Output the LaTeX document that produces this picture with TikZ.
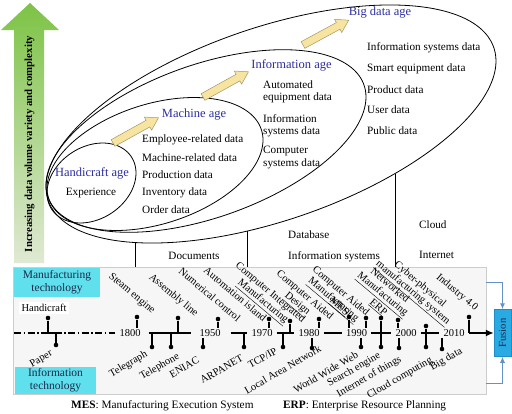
\documentclass[tikz,border=0pt]{standalone}
\usepackage{fontspec}
\setmainfont{Liberation Serif}
\usetikzlibrary{arrows.meta,calc}
\definecolor{ageblue}{RGB}{45,45,160}
\definecolor{cyanbox}{RGB}{96,224,236}
\definecolor{fusionblue}{RGB}{42,170,226}
\definecolor{fusionedge}{RGB}{30,140,200}
\definecolor{linkblue}{RGB}{100,145,200}
\definecolor{darktext}{RGB}{25,40,75}
\definecolor{arrowyellow}{RGB}{246,228,160}
\definecolor{arrowedge}{RGB}{165,150,105}
\definecolor{greentop}{RGB}{125,195,70}
\definecolor{greenbot}{RGB}{224,233,212}
\definecolor{panelfill}{RGB}{246,246,246}
\definecolor{paneledge}{RGB}{205,205,205}
\begin{document}
\begin{tikzpicture}[x=1pt,y=-1pt,
  txt/.style={font=\fontsize{11.2}{13}\selectfont, inner sep=0pt},
  agetitle/.style={font=\fontsize{12.5}{14}\selectfont, text=ageblue, inner sep=0pt},
  tl/.style={font=\fontsize{10.5}{12}\selectfont, inner sep=0pt, rotate=-40},
  bl/.style={font=\fontsize{10.5}{12}\selectfont, inner sep=0pt, rotate=30},
  yr/.style={font=\fontsize{10.5}{12}\selectfont, inner xsep=4pt, inner ysep=1.5pt},
  pin/.style={circle, fill=black, inner sep=0pt, minimum size=4.6pt},
  stem/.style={line width=1.1pt},
  axisline/.style={line width=1.5pt},
  dashdotline/.style={line width=1.2pt, dash pattern=on 7pt off 2.5pt on 1.5pt off 2.5pt},
  ell/.style={line width=0.8pt},
  sep/.style={line width=1pt},
  yarrowstyle/.style={draw=arrowedge, fill=arrowyellow, line width=0.5pt},
  techbox/.style={fill=cyanbox, text=darktext, align=center, font=\fontsize{11.5}{13}\selectfont, inner sep=0pt},
  link/.style={draw=linkblue, line width=1pt, -{Latex[length=6pt,width=5pt]}},
  yarr/.pic={\draw[yarrowstyle] (0,-3.8) -- (40,-3.8) -- (40,-7.5) -- (52,0) -- (40,7.5) -- (40,3.8) -- (0,3.8) -- cycle;},
]
\useasboundingbox (0,0) rectangle (512,413);

% green arrow
\shade[top color=greentop, bottom color=greenbot] (14,263) -- (14,30) -- (1,30) -- (30,3) -- (59,30) -- (44,30) -- (44,263) -- cycle;
\node[rotate=90, font=\bfseries\fontsize{10.8}{12}\selectfont, inner sep=0pt] (gtxt) at (29.5,144) {Increasing data volume variety and complexity};

% ellipses
\draw[ell] plot[smooth cycle, domain=0:357.5, samples=144, variable=\t] ({271+225*cos(\t)}, {124-63*cos(\t)+101*sin(\t)});
\draw[ell] plot[smooth cycle, domain=0:357.5, samples=144, variable=\t] ({206+160*cos(\t)}, {141-44*cos(\t)+80*sin(\t)});
\draw[ell] plot[smooth cycle, domain=0:357.5, samples=144, variable=\t] ({155+108*cos(\t)}, {164-24*cos(\t)+62*sin(\t)});
\draw[ell] plot[smooth cycle, domain=0:357.5, samples=144, variable=\t] ({91.5+44.5*cos(\t)}, {183-10*cos(\t)+38.7*sin(\t)});

% yellow arrows
\pic[rotate=29] (ya1) at (113,143) {yarr};
\pic[rotate=29] (ya2) at (203,97) {yarr};
\pic[rotate=28.5] (ya3) at (303,45) {yarr};

% titles
\node[agetitle] (thand) at (92,173) {Handicraft age};
\node[txt] (exper) at (91,193) {Experience};
\node[agetitle] (tmach) at (194,115) {Machine age};
\node[agetitle] (tinfo) at (291.5,65) {Information age};
\node[agetitle] (tbig) at (380,13) {Big data age};

% machine data
\node[txt, anchor=west] (m1) at (142,140) {Employee-related data};
\node[txt, anchor=west] (m2) at (142,157.5) {Machine-related data};
\node[txt, anchor=west] (m3) at (142,175) {Production data};
\node[txt, anchor=west] (m4) at (142,192.5) {Inventory data};
\node[txt, anchor=west] (m5) at (142,210) {Order data};

% information data
\node[txt, anchor=west] (i1a) at (263,85) {Automated};
\node[txt, anchor=west] (i1b) at (263,97.5) {equipment data};
\node[txt, anchor=west] (i2a) at (263,119) {Information};
\node[txt, anchor=west] (i2b) at (263,131.5) {systems data};
\node[txt, anchor=west] (i3a) at (263,151) {Computer};
\node[txt, anchor=west] (i3b) at (263,164) {systems data};

% big data
\node[txt, anchor=west] (b1) at (367,48) {Information systems data};
\node[txt, anchor=west] (b2) at (367,69) {Smart equipment data};
\node[txt, anchor=west] (b3) at (367,89.5) {Product data};
\node[txt, anchor=west] (b4) at (367,110) {User data};
\node[txt, anchor=west] (b5) at (367,130.5) {Public data};

% timeline panel
\node[draw=paneledge, fill=panelfill, minimum width=473pt, minimum height=127pt, inner sep=0pt, anchor=north west] (panel) at (13,267) {};

% separators
\coordinate (s1) at (135,242.6);
\coordinate (s2) at (247,231);
\coordinate (s3) at (395,173.6);
\draw[sep] (s1) -- (s1 |- panel.north);
\draw[sep] (s2) -- (s2 |- panel.north);
\draw[sep] (s3) -- (s3 |- panel.north);
\node[txt] (docs) at (194,256) {Documents};
\node[txt, anchor=west] (dbase) at (288,235) {Database};
\node[txt, anchor=west] (infsys) at (288,257) {Information systems};
\node[txt, anchor=west] (cloud) at (419,225) {Cloud};
\node[txt, anchor=west] (inet) at (419,255) {Internet};

% tech boxes
\node[techbox, minimum width=86pt, minimum height=29pt] (mtech) at (57,282.5) {Manufacturing\\technology};
\node[techbox, minimum width=81pt, minimum height=27pt] (itech) at (55.5,380.5) {Information\\technology};
\node[fill=white, font=\fontsize{10.5}{12}\selectfont, inner xsep=3pt, inner ysep=2pt] (handi) at (44,308) {Handicraft};

% years
\node[yr] (y1800) at (130,333) {1800};
\node[yr] (y1950) at (210,333) {1950};
\node[yr] (y1970) at (262,333) {1970};
\node[yr] (y1980) at (309,333) {1980};
\node[yr] (y1990) at (356.5,333) {1990};
\node[yr] (y2000) at (406,333) {2000};
\node[yr] (y2010) at (454,333) {2010};

% axis
\coordinate (ax0) at (14,333);
\draw[dashdotline] (ax0) -- (y1800.west);
\draw[axisline, shorten <=4pt, shorten >=4pt] (y1800.east) -- (y1950.west);
\draw[axisline, shorten <=6pt] (y1950.east) -- (y1970.west);
\draw[axisline] (y1970.east) -- (y1980.west);
\draw[axisline] (y1980.east) -- (y1990.west);
\draw[axisline] (y1990.east) -- (y2000.west);
\draw[axisline] (y2000.east) -- (y2010.west);

% fusion
\node[fill=fusionblue, draw=fusionedge, line width=0.5pt, minimum width=17pt, minimum height=47pt, inner sep=0pt] (fusion) at (502.5,333) {};
\node[rotate=90, font=\fontsize{10.5}{12}\selectfont, text=darktext, inner sep=0pt] (fustxt) at (fusion.center) {Fusion};
\coordinate (mfgout) at (486,282);
\coordinate (itout) at (486,383);
\draw[link] (mfgout) -| (fusion.north);
\draw[link] (itout) -| (fusion.south);

% handicraft / paper
\node[pin] (pHandi) at (48,318) {};
\node[pin] (pPaper) at (56,345) {};
\draw[stem] (pHandi) -- ++(0,15) -| (pPaper);

% top pins
\node[pin] (pSteam) at (137,317) {};
\node[pin] (pAssembly) at (178,318) {};
\node[pin] (pNumer) at (218,319) {};
\node[pin] (pAuto) at (269,319) {};
\node[pin] (pCIM) at (290,321) {};
\node[pin] (pCAD) at (319,319) {};
\node[pin] (pMES) at (349,317) {};
\node[pin] (pCAM) at (366,318) {};
\node[pin] (pERP) at (381,318) {};
\node[pin] (pNet) at (398,320) {};
\node[pin] (pCPMS) at (426,326) {};
\node[pin] (pInd) at (469,317) {};
\draw[stem] (pSteam) -- (pSteam |- y1800.north);
\draw[stem] (pAssembly) -- (pAssembly |- y1800.center);
\draw[stem] (pNumer) -- (pNumer |- y1950.north);
\draw[stem] (pAuto) -- (pAuto |- y1970.north);
\draw[stem] (pCIM) -- (pCIM |- y1970.center);
\draw[stem] (pCAD) -- (pCAD |- y1980.north);
\draw[stem] (pMES) -- (pMES |- y1990.north);
\draw[stem] (pCAM) -- (pCAM |- y1990.north);
\draw[stem] (pERP) -- (pERP |- y1990.center);
\draw[stem] (pNet) -- (pNet |- y2000.north);
\draw[stem] (pCPMS) -- (pCPMS |- y2000.center);
\coordinate (i4) at (pInd |- y2010.center);
\draw[stem] (pInd) -- (i4);
\draw[axisline, -{Latex[length=8pt,width=7pt]}] (i4) -- (i4 -| fusion.west);

% bottom pins
\node[pin] (pTelegraph) at (152,347) {};
\node[pin] (pTelephone) at (171,347) {};
\node[pin] (pENIAC) at (203,347) {};
\node[pin] (pARPA) at (244,347) {};
\node[pin] (pTCP) at (283,347) {};
\node[pin] (pLAN) at (312,348) {};
\node[pin] (pWWW) at (361,347) {};
\node[pin] (pSearch) at (381,347) {};
\node[pin] (pIoT) at (399,348) {};
\node[pin] (pCloud) at (426,347) {};
\node[pin] (pBig) at (442,349) {};
\draw[stem] (pTelegraph) -- (pTelegraph |- y1800.center);
\draw[stem] (pTelephone) -- (pTelephone |- y1800.center);
\draw[stem] (pENIAC) -- (pENIAC |- y1950.south);
\draw[stem] (pARPA) -- (pARPA |- y1950.center);
\draw[stem] (pTCP) -- (pTCP |- y1970.center);
\draw[stem] (pLAN) -- (pLAN |- y1980.south);
\draw[stem] (pWWW) -- (pWWW |- y1990.south);
\draw[stem] (pSearch) -- (pSearch |- y1990.center);
\draw[stem] (pIoT) -- (pIoT |- y2000.south);
\draw[stem] (pCloud) -- (pCloud |- y2000.center);
\draw[stem] (pBig) -- (pBig |- y2010.south);

% top labels
\node[tl, anchor=base east] (lSteam) at (152,314) {Steam engine};
\node[tl, anchor=base east] (lAssembly) at (195,317) {Assembly line};
\node[tl, anchor=base east] (lNumer) at (237,322) {Numerical control};
\node[tl, anchor=base east] (lAuto) at (263,322) {Automation island};
\node[tl, anchor=base east] (lCIM1) at (302,323) {Computer Integrated};
\node[tl, anchor=base] (lCIM2) at ($(lCIM1.base)+(-7.1,8.4)$) {\underline{Manufacturing}};
\node[tl, anchor=base east] (lCAD1) at (330,320) {Computer Aided};
\node[tl, anchor=base] (lCAD2) at ($(lCAD1.base)+(-7.1,8.4)$) {\underline{Design}};
\node[tl, anchor=base east] (lMES) at (346,316) {\underline{MES}};
\node[tl, anchor=base east] (lCAM1) at (366,316) {Computer Aided};
\node[tl, anchor=base] (lCAM2) at ($(lCAM1.base)+(-7.1,8.4)$) {\underline{Manufacturing}};
\node[tl, anchor=base east] (lERP) at (384,316) {\underline{ERP}};
\node[tl, anchor=base east] (lNet1) at (406,303) {Networked};
\node[tl, anchor=base] (lNet2) at ($(lNet1.base)+(-7.1,8.4)$) {\underline{Manufacturing}};
\node[tl, anchor=base east] (lCPMS1) at (443,307) {Cyber-physical};
\node[tl, anchor=base] (lCPMS2) at ($(lCPMS1.base)+(-7.1,8.4)$) {\underline{manufacturing system}};
\node[tl, anchor=base east] (lInd) at (475,311) {Industry 4.0};

% bottom labels
\node[bl, anchor=base east] (lPaper) at (53,355) {Paper};
\node[bl, anchor=base east] (lTelegraph) at (148,356) {Telegraph};
\node[bl, anchor=base east] (lTelephone) at (180,358) {Telephone};
\node[bl, anchor=base east] (lENIAC) at (200,362) {ENIAC};
\node[bl, anchor=base east] (lARPA) at (244,360) {ARPANET};
\node[bl, anchor=base east] (lTCP) at (278,353) {TCP/IP};
\node[bl, anchor=base east] (lLAN) at (322,351) {Local Area Network};
\node[bl, anchor=base east] (lWWW) at (359,357) {World Wide Web};
\node[bl, anchor=base east] (lSearch) at (381,357) {Search engine};
\node[bl, anchor=base east] (lIoT) at (402,361) {Internet of things};
\node[bl, anchor=base east] (lCloud) at (433,362) {Cloud computing};
\node[bl, anchor=base east] (lBig) at (463,353) {Big data};

% footer
\node[txt, font=\fontsize{11.3}{13}\selectfont, anchor=west] (fmes) at (71,406) {\textbf{MES}: Manufacturing Execution System};
\node[txt, font=\fontsize{11.3}{13}\selectfont, anchor=west] (ferp) at (283,406) {\textbf{ERP}: Enterprise Resource Planning};
\end{tikzpicture}
\end{document}
